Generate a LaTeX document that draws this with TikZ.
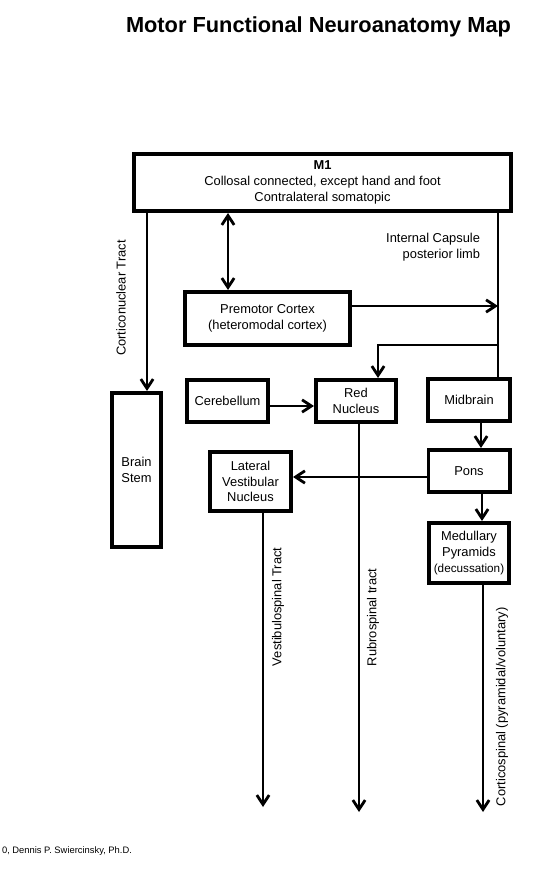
\documentclass[tikz,border=0pt]{standalone}
\usepackage{fontspec}
\setmainfont{Liberation Sans}
\usetikzlibrary{positioning,arrows.meta}

\begin{document}
\begin{tikzpicture}[x=0.03cm, y=-0.03cm, ->, >={Straight Barb[length=8pt,width=10.5pt,line width=2.4pt]}, line width=1.8pt,
  mybox/.style={rectangle, draw, line width=3.4pt, align=center, inner sep=2pt},
  every node/.style={font=\fontsize{11}{13.5}\selectfont}]

  \useasboundingbox (0,0) rectangle (548,881);

  \node[font=\fontsize{18.6}{22}\selectfont\bfseries, anchor=base] (title) at (318.5,33) {Motor Functional Neuroanatomy Map};

  \node[mybox, minimum width=11.31cm, minimum height=1.71cm] (m1) at (322.5,182.5) {\textbf{M1}\\Collosal connected, except hand and foot\\Contralateral somatopic};
  \node[mybox, minimum width=4.95cm, minimum height=1.59cm] (premotor) at (267.5,318.5) {Premotor Cortex\\(heteromodal cortex)};
  \node[mybox, minimum width=1.47cm, minimum height=4.62cm] (brainstem) at (136.5,470) {Brain\\Stem};
  \node[mybox, minimum width=2.43cm, minimum height=1.26cm] (cereb) at (227.5,401) {Cerebellum};
  \node[mybox, minimum width=2.4cm, minimum height=1.26cm, right=1.32cm of cereb] (rednuc) {Red\\Nucleus};
  \node[mybox, minimum width=2.46cm, minimum height=1.26cm] (midbrain) at (469,400) {Midbrain};
  \node[mybox, minimum width=2.43cm, minimum height=1.26cm, below=0.75cm of midbrain] (pons) {Pons};
  \node[mybox, minimum width=2.43cm, minimum height=1.77cm] (latvest) at (250.5,481.5) {Lateral\\Vestibular\\Nucleus};
  \node[mybox, minimum width=2.4cm, minimum height=1.8cm, below=0.81cm of pons] (medpyr) {Medullary\\Pyramids\\{\fontsize{10}{12}\selectfont(decussation)}};

  % tract labels
  \node[rotate=90] (cnlabel) at (121,298) {Corticonuclear Tract};
  \node[align=right, anchor=east] (iclabel) at (485,247) {Internal Capsule\\posterior limb};
  \node[rotate=90, anchor=west] (vslabel) at (278,671) {Vestibulospinal Tract};
  \node[rotate=90, anchor=west] (rslabel) at (373,671) {Rubrospinal tract};
  \node[rotate=90, anchor=west] (cslabel) at (502,811) {Corticospinal (pyramidal/voluntary)};

  \node[font=\fontsize{8}{10}\selectfont, anchor=base west, inner sep=0pt] (credit) at (1,853) {0, Dennis P. Swiercinsky, Ph.D.};

  \coordinate (capmid) at (498,306);
  \coordinate (capbranch) at (498,345);
  \coordinate (vestend) at (263,807);
  \coordinate (rubroend) at (359,812);
  \coordinate (corticoend) at (483,812);

  % internal capsule
  \draw[-] (498,0 |- m1.south) -- (498,0 |- midbrain.north);
  \draw (premotor.east |- capmid) -- (capmid);
  \draw (capbranch) -| (378,0 |- rednuc.north);

  \path
    (228,0 |- m1.south) edge[<->] (228,0 |- premotor.north)
    (147,0 |- m1.south) edge (147,0 |- brainstem.north)
    (cereb.east |- 0,406) edge (rednuc.west |- 0,406)
    (481,0 |- midbrain.south) edge (481,0 |- pons.north)
    (pons.west |- 0,477) edge (latvest.east |- 0,477)
    (482,0 |- pons.south) edge (482,0 |- medpyr.north)
    (latvest.south -| vestend) edge (vestend)
    (rednuc.south -| rubroend) edge (rubroend)
    (medpyr.south -| corticoend) edge (corticoend)
  ;
\end{tikzpicture}
\end{document}
